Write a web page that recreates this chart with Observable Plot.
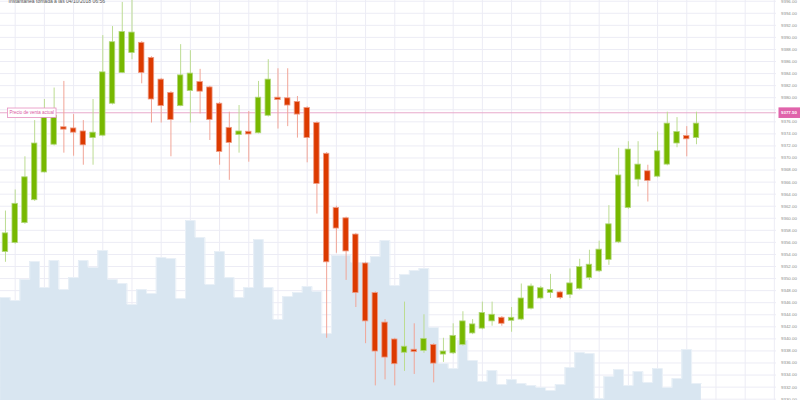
<!DOCTYPE html>
<html>
<head>
<meta charset="utf-8">
<script src="https://cdn.jsdelivr.net/npm/d3@7"></script>
<script src="https://cdn.jsdelivr.net/npm/@observablehq/plot@0.6"></script>
<style>
  html, body { margin: 0; padding: 0; background: #fff; }
  #chart { position: relative; width: 800px; height: 400px; overflow: hidden; font-family: "Liberation Sans", Arial, sans-serif; }
  #chart > svg { position: absolute; left: 0; top: 0; }
</style>
</head>
<body>
<div id="chart"></div>
<script>
// ---- data ----
const title = "Instantánea tomada a las 04/10/2018 06:56";
const currentLabel = "Precio de venta actual";
const currentPrice = 9377.5;

const open = [9354.4, 9355.9, 9359.2, 9363.0, 9367.6, 9372.2, 9375.1, 9374.9, 9374.4, 9373.3,
  9373.7, 9379.0, 9384.1, 9387.4, 9389.1, 9386.6, 9383.0, 9380.8, 9378.6, 9381.1,
  9382.6, 9381.7, 9379.0, 9375.0, 9373.8, 9374.1, 9374.1, 9377.0, 9380.0, 9379.9,
  9379.3, 9378.3, 9375.8, 9370.7, 9361.7, 9360.0, 9357.3, 9352.5, 9347.6, 9342.7,
  9339.9, 9337.7, 9338.2, 9338.0, 9339.0, 9337.4, 9337.6, 9339.0, 9340.9, 9341.7,
  9342.9, 9343.5, 9343.0, 9343.2, 9345.0, 9346.7, 9347.6, 9347.7, 9347.3, 9348.3,
  9350.1, 9351.2, 9353.1, 9356.0, 9361.7, 9366.4, 9367.8, 9366.9, 9368.9, 9372.4,
  9373.4, 9373.3];
const close = [9357.5, 9362.4, 9366.8, 9372.4, 9376.8, 9377.0, 9374.7, 9374.2, 9372.1, 9374.2,
  9384.2, 9389.2, 9390.9, 9390.8, 9384.1, 9379.7, 9378.6, 9376.3, 9383.7, 9384.0,
  9381.0, 9376.3, 9371.0, 9372.5, 9374.4, 9373.9, 9380.0, 9383.0, 9379.6, 9378.7,
  9377.2, 9373.3, 9365.7, 9352.7, 9358.3, 9354.5, 9347.6, 9342.9, 9337.9, 9336.9,
  9335.8, 9338.7, 9337.8, 9340.0, 9335.9, 9337.9, 9340.5, 9342.9, 9342.4, 9344.3,
  9344.0, 9342.5, 9343.5, 9346.7, 9348.7, 9348.4, 9348.1, 9346.8, 9349.2, 9351.9,
  9352.3, 9354.8, 9359.0, 9367.1, 9371.4, 9368.9, 9366.2, 9371.1, 9375.7, 9374.3,
  9373.1, 9375.7];
const high = [9361.2, 9364.7, 9370.2, 9376.2, 9379.7, 9381.6, 9382.7, 9377.2, 9376.2, 9379.7,
  9390.3, 9391.8, 9395.8, 9397.5, 9389.3, 9386.8, 9383.2, 9381.0, 9388.8, 9387.8,
  9384.7, 9381.9, 9379.2, 9377.6, 9378.7, 9377.7, 9382.7, 9386.3, 9384.8, 9384.8,
  9380.2, 9378.5, 9376.0, 9370.9, 9362.0, 9360.2, 9357.5, 9352.7, 9347.8, 9343.2,
  9340.1, 9346.1, 9342.5, 9344.0, 9339.2, 9340.1, 9342.5, 9344.5, 9343.2, 9346.1,
  9346.1, 9343.7, 9345.2, 9349.1, 9349.1, 9348.7, 9350.7, 9347.9, 9351.6, 9353.2,
  9354.7, 9356.2, 9362.1, 9371.6, 9372.7, 9372.7, 9368.8, 9374.3, 9377.6, 9376.7,
  9375.2, 9377.6];
const low = [9352.7, 9355.7, 9359.0, 9362.8, 9367.5, 9372.0, 9370.8, 9370.3, 9368.8, 9368.8,
  9373.5, 9378.8, 9384.0, 9386.3, 9382.3, 9375.8, 9375.8, 9370.2, 9378.5, 9375.8,
  9377.3, 9372.9, 9368.8, 9366.3, 9370.8, 9369.3, 9374.0, 9376.8, 9374.8, 9375.2,
  9373.3, 9369.2, 9360.7, 9340.1, 9354.2, 9349.7, 9345.2, 9339.2, 9332.2, 9333.2,
  9332.2, 9334.6, 9334.1, 9337.6, 9332.7, 9336.1, 9337.4, 9338.8, 9340.7, 9341.5,
  9342.1, 9342.1, 9341.1, 9343.0, 9344.8, 9346.5, 9346.7, 9346.5, 9346.7, 9348.1,
  9349.7, 9351.0, 9352.2, 9355.8, 9361.5, 9365.2, 9362.7, 9366.7, 9368.7, 9371.7,
  9370.2, 9372.2];
const volume = [103, 100, 121, 139, 113, 140, 111, 123, 140, 133,
  150, 121, 117, 96, 111, 107, 143, 142, 102, 180,
  163, 116, 149, 123, 103, 113, 161, 113, 81, 104,
  108, 114, 109, 67, 145, 145, 138, 138, 144, 160,
  115, 126, 130, 132, 73, 37, 32, 60, 40, 19,
  30, 16, 21, 17, 15, 13, 10, 16, 33, 48,
  47, 2, 24, 31, 15, 29, 18, 32, 13, 22,
  51, 17];
const priceTicks = d3.range(9330, 9397, 2);
const timeGridTicks = d3.range(1, 80, 3);

// ---- derived tables ----
const candles = open.map((o, i) => ({i, o, c: close[i], h: high[i], l: low[i], up: close[i] >= o}));
const volSteps = volume.map((v, i) => ({x: i - 0.5, v})).concat([{x: volume.length - 0.5, v: volume[volume.length - 1]}]);
// the tick label hidden behind the current-price tag in the reference
const labelTicks = priceTicks.filter(t => Math.abs(t - currentPrice) > 1);

const W = 800, H = 400;
const common = {
  width: W, height: H,
  marginLeft: 0, marginRight: 24, marginTop: 0, marginBottom: 0
};
const xDomain = [-0.51, 79.22];
const yDomain = [9329.78, 9396.12];

// Layer 1: grid + price axis
const grid = Plot.plot({
  ...common,
  style: {background: "#fff", fontSize: "4.4px", color: "#8c8c8c", fontFamily: "'Liberation Sans', Arial, sans-serif"},
  x: {domain: xDomain, axis: null},
  y: {domain: yDomain, axis: "right", ticks: labelTicks, tickFormat: d => d.toFixed(2), tickSize: 0, tickPadding: 4.5, label: null},
  marks: [
    Plot.ruleY(priceTicks, {stroke: "#ececf5", strokeWidth: 1}),
    Plot.ruleX(timeGridTicks, {stroke: "#ececf5", strokeWidth: 1})
  ]
});

// Layer 2: volume
const vol = Plot.plot({
  ...common,
  style: {background: "transparent"},
  x: {domain: xDomain, axis: null},
  y: {domain: [0, 400], axis: null},
  marks: [
    Plot.areaY(volSteps, {x: "x", y: "v", curve: "step-after", fill: "#d9e6f1"}),
    Plot.lineY(volSteps, {x: "x", y: "v", curve: "step-after", stroke: "#e9f0f7", strokeWidth: 1})
  ]
});

// Layer 3: candles, current price
const main = Plot.plot({
  ...common,
  style: {background: "transparent", fontFamily: "'Liberation Sans', Arial, sans-serif"},
  x: {domain: xDomain, axis: null},
  y: {domain: yDomain, axis: null},
  marks: [
    Plot.ruleY([currentPrice], {stroke: "#e8a9cc", strokeWidth: 1}),
    Plot.ruleX(candles, {x: "i", y1: "l", y2: "h", stroke: d => d.up ? "#bcdc92" : "#f1a597", strokeWidth: 1}),
    Plot.rect(candles, {
      x1: d => d.i - 0.28, x2: d => d.i + 0.28,
      y1: d => Math.min(d.o, d.c), y2: d => Math.max(d.o, d.c) + (Math.abs(d.o - d.c) < 0.3 ? 0.25 : 0),
      fill: d => d.up ? "#77b800" : "#dc3a00",
      stroke: d => d.up ? "#b2d77c" : "#ee9c86", strokeWidth: 0.8
    }),
    Plot.text([currentLabel], {y: [currentPrice], frameAnchor: "left", dx: 9, textAnchor: "start", fontSize: 4.5, fill: "#d9579f"}),
    Plot.text([currentPrice.toFixed(2)], {y: [currentPrice], frameAnchor: "right", dx: 4.5, textAnchor: "start", fontSize: 4.4, fill: "#ffffff", fontWeight: "bold"}),
    Plot.text([title], {frameAnchor: "top-left", dx: 8, dy: 0.5, textAnchor: "start", lineAnchor: "middle", fontSize: 5, fill: "#555"})
  ]
});

const el = document.getElementById("chart");
el.append(grid, vol, main);

function boxText(svg, str, fill, stroke, padX, padY, extraRight) {
  const t = Array.from(svg.querySelectorAll("text")).find(e => e.textContent === str);
  if (!t) return;
  const b = t.getBBox();
  const r = document.createElementNS("http://www.w3.org/2000/svg", "rect");
  r.setAttribute("x", b.x - padX);
  r.setAttribute("y", b.y - padY);
  r.setAttribute("width", b.width + 2 * padX + (extraRight || 0));
  r.setAttribute("height", b.height + 2 * padY);
  r.setAttribute("fill", fill);
  if (stroke) { r.setAttribute("stroke", stroke); r.setAttribute("stroke-width", 0.8); }
  const tr = t.getAttribute("transform");
  if (tr) r.setAttribute("transform", tr);
  t.parentNode.insertBefore(r, t);
}
boxText(main, currentLabel, "#ffffff", "#e78fc0", 2, 2.2, 0);
boxText(main, currentPrice.toFixed(2), "#e063ab", null, 2.5, 2.8, 3);
</script>
</body>
</html>
